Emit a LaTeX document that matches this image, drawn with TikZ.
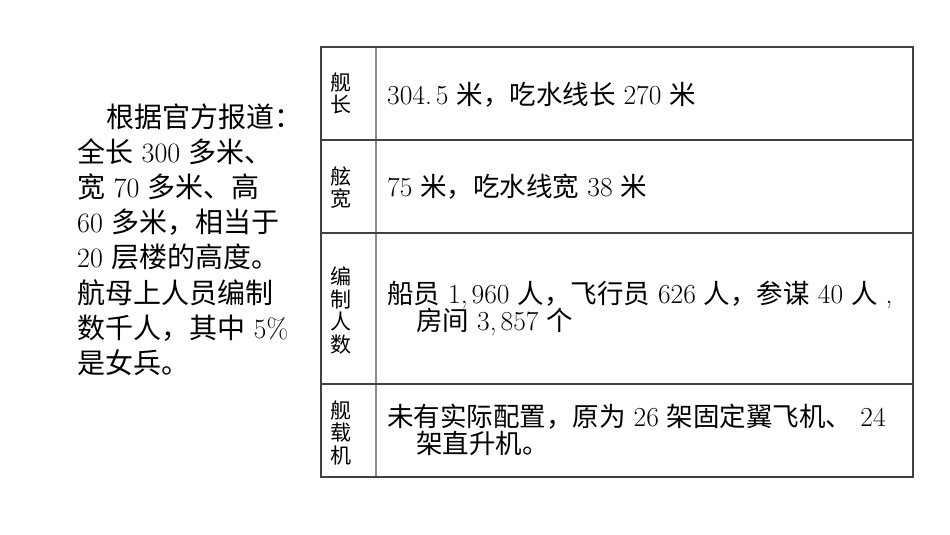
\documentclass[tikz,border=0pt]{standalone}
\usepackage{fontspec}
\newfontfamily\cjk{Noto Sans CJK SC}
\newcommand\zh[1]{{\cjk #1}}
\newcommand\dg[1]{{\fontsize{27.5}{27.5}\selectfont #1}}
\begin{document}
\begin{tikzpicture}[x=1pt,y=-1pt,
  tblline/.style={draw=black!75, line width=1.2pt},
  divline/.style={draw=black!45, line width=1.2pt},
  bodytext/.style={anchor=base west, inner sep=0pt, font=\fontsize{28}{34}\selectfont},
  celltext/.style={anchor=base west, inner sep=0pt, font=\fontsize{26.5}{27}\selectfont},
  labeltext/.style={anchor=base, inner sep=0pt, font=\fontsize{21}{22}\selectfont\cjk}]
\useasboundingbox (0,0) rectangle (950,535);
% left paragraph
\node[bodytext] (l1) at (106,127.0) {\zh{根据官方报道：}};
\node[bodytext] (l2) at (77,162.2) {\zh{全长} 300 \zh{多米、}};
\node[bodytext] (l3) at (77,197.4) {\zh{宽} 70 \zh{多米、高}};
\node[bodytext] (l4) at (77,232.6) {60 \zh{多米，相当于}};
\node[bodytext] (l5) at (77,267.8) {20 \zh{层楼的高度。}};
\node[bodytext] (l6) at (77,303.0) {\zh{航母上人员编制}};
\node[bodytext] (l7) at (77,338.2) {\zh{数千人，其中} 5\%};
\node[bodytext] (l8) at (77,373.4) {\zh{是女兵。}};
% table grid
\coordinate (tl) at (321,47);
\coordinate (br) at (913,477);
\draw[divline] (376,47) -- (376,477);
\draw[tblline] (321,140) -- (913,140);
\draw[tblline] (321,233) -- (913,233);
\draw[tblline] (321,384) -- (913,384);
\draw[tblline] (tl) rectangle (br);
% labels
\node[labeltext] (a1) at (341,90) {舰};
\node[labeltext] (a2) at (341,112.5) {长};
\node[labeltext] (b1) at (341,184) {舷};
\node[labeltext] (b2) at (341,206.5) {宽};
\node[labeltext] (c1) at (341,284.5) {编};
\node[labeltext] (c2) at (341,307) {制};
\node[labeltext] (c3) at (341,329.5) {人};
\node[labeltext] (c4) at (341,352) {数};
\node[labeltext] (d1) at (341,418) {舰};
\node[labeltext] (d2) at (341,440.5) {载};
\node[labeltext] (d3) at (341,463) {机};
% cell texts
\node[celltext] (t1) at (387,104) {\dg{304.\kern4pt 5} \zh{米，吃水线长} \dg{270} \zh{米}};
\node[celltext] (t2) at (387,196) {\dg{75} \zh{米，吃水线宽} \dg{38} \zh{米}};
\node[celltext] (t3a) at (387,303) {\zh{船员} \dg{1,\kern4pt 960} \zh{人，飞行员} \dg{626} \zh{人，参谋} \dg{40} \zh{人} \dg{,}};
\node[celltext] (t3b) at (416,330) {\zh{房间} \dg{3,\kern4pt 857} \zh{个}};
\node[celltext] (t4a) at (387,426) {\zh{未有实际配置，原为} \dg{26} \zh{架固定翼飞机、} \dg{24}};
\node[celltext] (t4b) at (416,453) {\zh{架直升机。}};
\end{tikzpicture}
\end{document}
